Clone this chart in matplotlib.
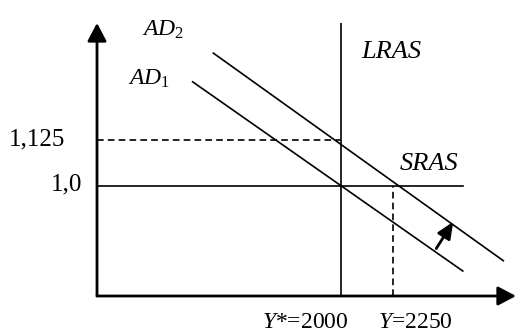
import matplotlib
matplotlib.use('Agg')
import matplotlib.pyplot as plt

plt.rcParams['font.family'] = 'Liberation Serif'
plt.rcParams['mathtext.fontset'] = 'custom'
plt.rcParams['mathtext.rm'] = 'Liberation Serif'
plt.rcParams['mathtext.it'] = 'Liberation Serif:italic'

# output levels and price levels
y_star = 2000
y_new = 2250
p_old = 1.0
p_new = 1.125

# aggregate demand curves (end points: output, price)
ad1_y = [1285, 2585]
ad1_p = [1.283, 0.768]
ad2_y = [1385, 2780]
ad2_p = [1.361, 0.796]

sras_end = 2587          # where the SRAS line stops
lras_top = 1.443

# shift arrow AD1 -> AD2
shift_from = (2457, 0.829)
shift_to = (2539, 0.902)

x_lo, x_hi = 825, 2841
p_lo, p_hi = 0.70, 1.443

fig = plt.figure(figsize=(5.16, 3.31), dpi=100)
ax = fig.add_axes([97 / 516, 35 / 331, 419 / 516, 273 / 331])
ax.set_xlim(x_lo, x_hi)
ax.set_ylim(p_lo, p_hi)
ax.axis('off')

# axes with arrows
axis_arrow = dict(arrowstyle='-|>,head_length=0.55,head_width=0.29',
                  color='black', lw=2, mutation_scale=20, shrinkA=0, shrinkB=0)
ax.annotate('', xy=(0, 1), xytext=(0, 0), xycoords='axes fraction', arrowprops=axis_arrow)
ax.annotate('', xy=(1, 0), xytext=(0, 0), xycoords='axes fraction', arrowprops=axis_arrow)

lw = 1.2
dash = (0, (4, 2.5))

# LRAS and SRAS
ax.plot([y_star, y_star], [p_lo, lras_top], color='black', lw=lw)
ax.plot([x_lo, sras_end], [p_old, p_old], color='black', lw=lw)

# AD curves
ax.plot(ad1_y, ad1_p, color='black', lw=lw)
ax.plot(ad2_y, ad2_p, color='black', lw=lw)

# dashed guides
ax.plot([x_lo, y_star], [p_new, p_new], color='black', lw=lw, linestyle=dash)
ax.plot([y_new, y_new], [p_lo, p_old], color='black', lw=lw, linestyle=dash)

# shift arrow
ax.annotate('', xy=shift_to, xytext=shift_from,
            arrowprops=dict(arrowstyle='-|>,head_length=0.5,head_width=0.22',
                            color='black', lw=2, mutation_scale=20, shrinkA=0, shrinkB=0))

# labels
ax.text(1043, 1.4076, r'$AD_2$', fontsize=17, va='baseline')
ax.text(976, 1.274, r'$AD_1$', fontsize=17, va='baseline')
ax.text(2096, 1.348, 'LRAS', fontsize=19, style='italic', va='baseline')
ax.text(2279, 1.0435, 'SRAS', fontsize=19, style='italic', va='baseline')

ax.text(673, 1.111, '1,125', fontsize=18, ha='right', va='baseline')
ax.text(755, 0.9864, '1,0', fontsize=18, ha='right', va='baseline')

ax.text(2034, 0.6142, r'$Y$*=2000', fontsize=17, ha='right', va='baseline')
ax.text(2178, 0.6142, r'$Y$=2250', fontsize=17, ha='left', va='baseline')

fig.savefig('out.png', dpi=100)
